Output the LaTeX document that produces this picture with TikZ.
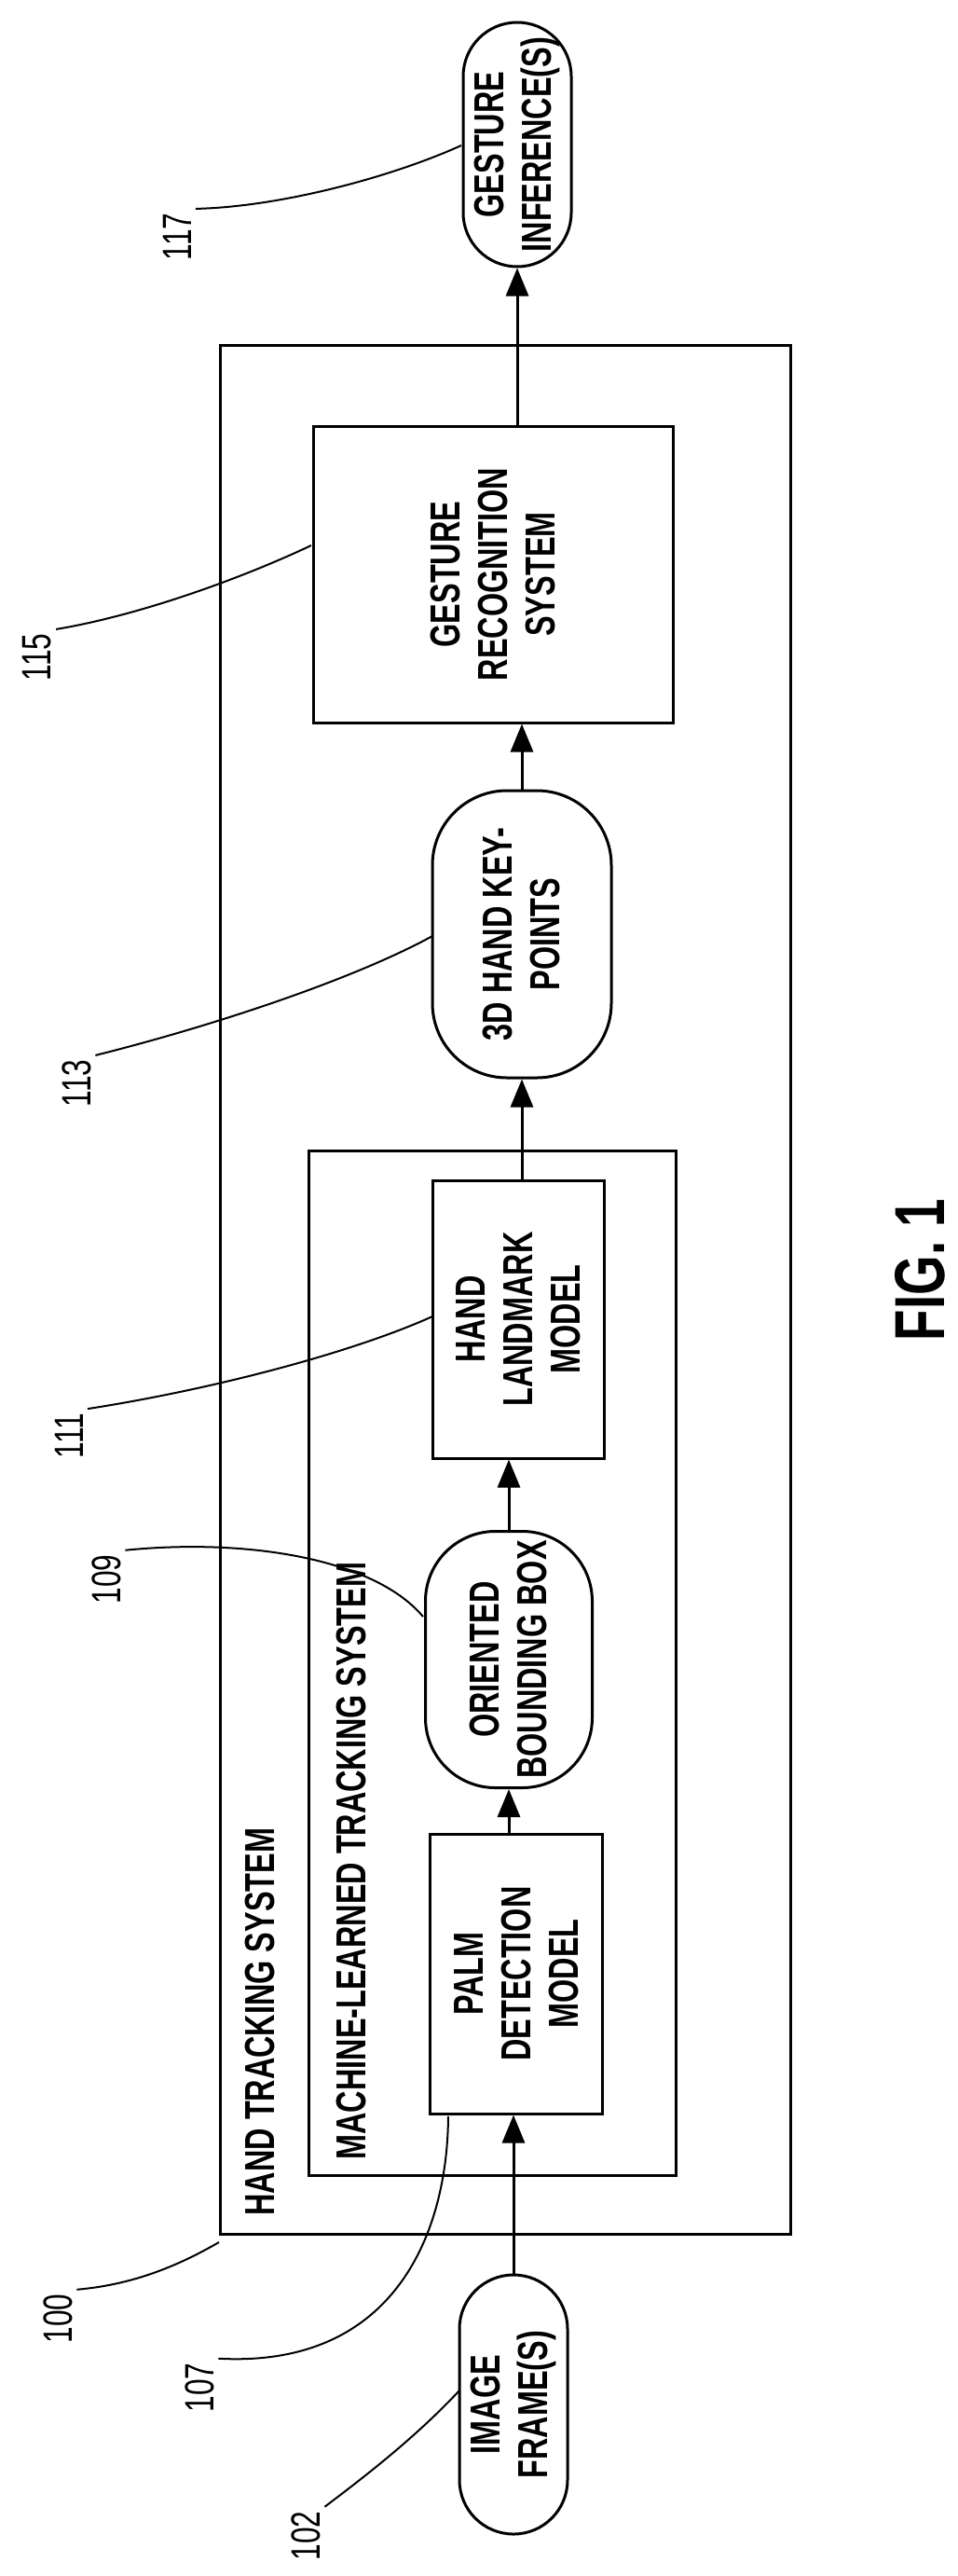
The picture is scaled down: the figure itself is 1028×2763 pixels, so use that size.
\documentclass[tikz,border=0pt]{standalone}
\usepackage{fontspec}
\setmainfont{Liberation Sans}[FakeStretch=0.72]
\usetikzlibrary{positioning, arrows.meta}

\begin{document}
\begin{tikzpicture}[x=1pt, y=-1pt, line width=3pt]
    % Define styles
    \tikzset{
        block/.style = {rectangle, draw, rotate=90, align=center,
            font=\fontsize{45}{51}\selectfont\bfseries, inner sep=0pt},
        pill/.style = {block, rounded corners=#1},
        refnum/.style = {rotate=90, font=\fontsize{44}{48}\selectfont},
        line/.style = {draw, -{Triangle[width=24pt, length=30pt]}},
        lead/.style = {draw, line width=2pt}
    }
    \useasboundingbox (0,0) rectangle (1028,2763);

    % Containers
    \draw (236,370) rectangle (848,2396);
    \draw (331,1234) rectangle (725,2333);
    \node [rotate=90, anchor=south west, font=\fontsize{45}{51}\selectfont\bfseries,
        inner sep=0pt] (hts) at (296,2378) {HAND TRACKING SYSTEM};
    \node [rotate=90, anchor=south west, font=\fontsize{45}{51}\selectfont\bfseries,
        inner sep=0pt] (mlts) at (394,2318) {MACHINE-LEARNED TRACKING SYSTEM};

    % Place nodes
    \node [pill=58pt, minimum width=262pt, minimum height=116pt] (infer) at (555,155) {GESTURE\\INFERENCE(S)};
    \node [block, minimum width=318pt, minimum height=386pt] (recog) at (529,616) {GESTURE\\RECOGNITION\\SYSTEM};
    \node [pill=80pt, minimum width=308pt, minimum height=192pt] (keypts) at (560,1002) {3D HAND KEY-\\POINTS};
    \node [block, minimum width=298pt, minimum height=184pt] (landmark) at (556,1415) {HAND\\LANDMARK\\MODEL};
    \node [pill=75pt, minimum width=275pt, minimum height=179pt] (bbox) at (546,1780) {ORIENTED\\BOUNDING BOX};
    \node [block, minimum width=300pt, minimum height=185pt] (palm) at (554,2117) {PALM\\DETECTION\\MODEL};
    \node [pill=58pt, minimum width=278pt, minimum height=116pt] (frames) at (551,2579) {IMAGE\\FRAME(S)};

    % Draw edges
    \path [line] (frames.east) -- (frames.east |- palm.west);
    \path [line] (palm.east -| bbox.center) -- (bbox.west);
    \path [line] (bbox.east) -- (bbox.east |- landmark.west);
    \path [line] (landmark.east -| keypts.center) -- (keypts.west);
    \path [line] (keypts.east) -- (keypts.east |- recog.west);
    \path [line] (recog.east -| infer.center) -- (infer.west);

    % Reference numerals
    \node [refnum] (n117) at (190,254) {117};
    \node [refnum] (n115) at (40,705) {115};
    \node [refnum] (n113) at (82,1162) {113};
    \node [refnum] (n111) at (74,1540) {111};
    \node [refnum] (n109) at (114,1694) {109};
    \node [refnum] (n100) at (62,2487) {100};
    \node [refnum] (n107) at (214,2561) {107};
    \node [refnum] (n102) at (328,2720) {102};
    \node [rotate=90, font=\fontsize{76}{80}\selectfont\bfseries] (fig) at (987,1362) {FIG. 1};

    \coordinate (c117) at (495,156);
    \coordinate (c115) at (334,585);
    \coordinate (c113) at (464,1004);
    \coordinate (c111) at (464,1412);
    \coordinate (c109) at (454,1734);
    \coordinate (c100) at (235,2405);
    \coordinate (c107) at (481,2270);
    \coordinate (c102) at (493,2564);
    \path [lead] (n117.south east) .. controls (300,222) and (420,190) .. (c117);
    \path [lead] (n115.south east) .. controls (150,660) and (260,620) .. (c115);
    \path [lead] (n113.south east) .. controls (230,1100) and (380,1050) .. (c113);
    \path [lead] (n111.south east) .. controls (230,1490) and (380,1450) .. (c111);
    \path [lead] (n109.south east) .. controls (260,1650) and (400,1670) .. (c109);
    \path [lead] (n100.south east) .. controls (150,2450) and (200,2425) .. (c100);
    \path [lead] (n107.south east) .. controls (420,2540) and (480,2400) .. (c107);
    \path [lead] (n102.south east) .. controls (400,2650) and (450,2610) .. (c102);
\end{tikzpicture}
\end{document}
